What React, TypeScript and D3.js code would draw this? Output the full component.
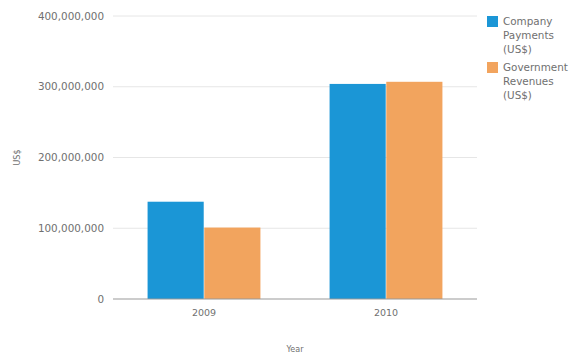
import React from "react";
import * as d3 from "d3";

const years = ["2009", "2010"];
const seriesNames = ["Company Payments (US$)", "Government Revenues (US$)"];
const companyPayments = [137500000, 304000000];
const governmentRevenues = [101000000, 307000000];
const yTicks = [0, 100000000, 200000000, 300000000, 400000000];
const legendLines = [["Company", "Payments", "(US$)"], ["Government", "Revenues", "(US$)"]];
const colors = ["#1b96d6", "#f2a45e"];

const W = 572, H = 356;
const margin = { left: 113, right: 95, top: 16, bottom: 57 };

export default function App() {
  const x0 = d3.scaleBand<string>().domain(years).range([margin.left, W - margin.right]).padding(0);
  const bw = x0.bandwidth();
  const x1 = d3.scaleBand<string>().domain(seriesNames).range([bw * 0.19, bw * 0.81]).paddingInner(0.01);
  const y = d3.scaleLinear().domain([0, 400000000]).range([H - margin.bottom, margin.top]);
  const fmt = d3.format(",");
  const values = [companyPayments, governmentRevenues];
  const font = "'DejaVu Sans', Verdana, sans-serif";
  const textColor = "#707070";
  return (
    <svg width={W} height={H} style={{ position: "absolute", left: 0, top: 0, background: "#fff" }} fontFamily={font}>
      {yTicks.map((t) => (
        <g key={t}>
          {t > 0 && <line x1={margin.left} x2={W - margin.right} y1={y(t)} y2={y(t)} stroke="#e6e6e6" strokeWidth={1} />}
          <text x={104} y={y(t)} dy="0.35em" textAnchor="end" fontSize={10.4} fill={textColor}>{fmt(t)}</text>
        </g>
      ))}
      {years.map((yr, i) => (
        <g key={yr} transform={`translate(${x0(yr)},0)`}>
          {seriesNames.map((s, j) => (
            <rect key={s} x={x1(s)} width={x1.bandwidth()} y={y(values[j][i])} height={y(0) - y(values[j][i])} fill={colors[j]} />
          ))}
          <text x={bw / 2} y={y(0) + 17} textAnchor="middle" fontSize={9.5} fill={textColor}>{yr}</text>
        </g>
      ))}
      <line x1={margin.left} x2={W - margin.right} y1={y(0)} y2={y(0)} stroke="#999" strokeWidth={1} />
      <text transform={`translate(20,${(y(0) + y(400000000)) / 2}) rotate(-90)`} textAnchor="middle" fontSize={8} fill={textColor}>US$</text>
      <text x={(margin.left + W - margin.right) / 2} y={352} textAnchor="middle" fontSize={8} fill={textColor}>Year</text>
      {legendLines.map((lines, j) => (
        <g key={j} transform={`translate(487,${16 + j * 46})`}>
          <rect x={0} y={0} width={11} height={11} fill={colors[j]} />
          {lines.map((l, k) => (
            <text key={k} x={16} y={9 + k * 14} fontSize={10.4} fill={textColor}>{l}</text>
          ))}
        </g>
      ))}
    </svg>
  );
}
